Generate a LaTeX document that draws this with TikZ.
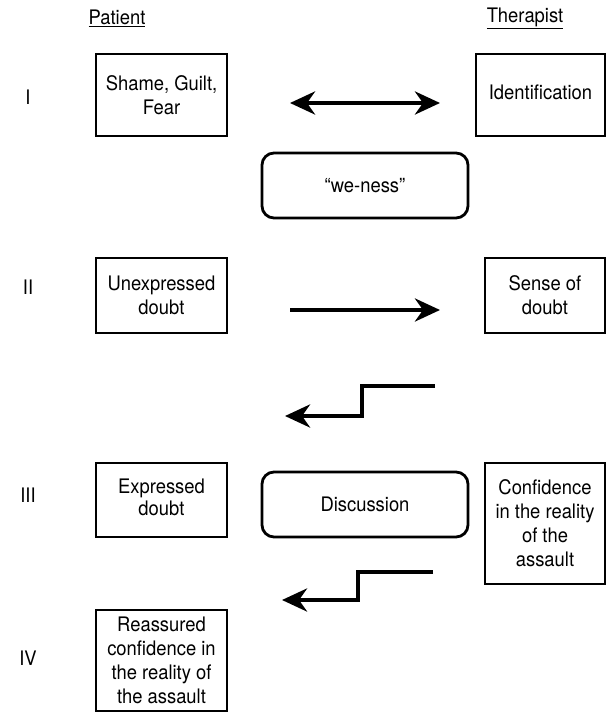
\documentclass[tikz,border=0pt]{standalone}
\usepackage{fontspec}
\setmainfont{TeX Gyre Heros}[FakeStretch=0.92]
\usetikzlibrary{arrows.meta}

\begin{document}
\begin{tikzpicture}[x=1pt,y=-1pt,
  >={Stealth[length=25pt,width=23pt,inset=8pt]},
  every node/.style={font=\fontsize{20}{24}\selectfont,align=center,inner sep=0pt},
  box/.style={draw,line width=2.8pt},
  talk/.style={draw,line width=2.8pt,rounded corners=12pt,
    minimum width=206pt,minimum height=65pt},
  flow/.style={line width=4.5pt}]
\useasboundingbox (0,0) rectangle (606,712);
% column heads and stages
\node (pat) at (117,18) {\underline{Patient}};
\node (ther) at (525,18) {\underline{Therapist}};
\node (s1) at (28,97)  {I};
\node (s2) at (28,287) {II};
\node (s3) at (28,495) {III};
\node (s4) at (28,658) {IV};
% patient column
\node[box,minimum width=131pt,minimum height=82pt] (p1) at (161.5,95)
  {Shame, Guilt,\\Fear};
\node[box,minimum width=131pt,minimum height=75pt] (p2) at (161.5,295.5)
  {Unexpressed\\doubt};
\node[box,minimum width=131pt,minimum height=74pt] (p3) at (161.5,500)
  {\raisebox{6pt}{\shortstack{Expressed\\doubt}}};
\node[box,minimum width=131pt,minimum height=101pt] (p4) at (161.5,660.5)
  {Reassured\\confidence in\\the reality of\\the assault};
% therapist column
\node[box,minimum width=129pt,minimum height=82pt] (t1) at (540.5,95)
  {\raisebox{6pt}{Identification}};
\node[box,minimum width=120pt,minimum height=75pt] (t2) at (545,295.5)
  {Sense of\\doubt};
\node[box,minimum width=120pt,minimum height=121pt] (t3) at (545,523.5)
  {Confidence\\in the reality\\of the\\assault};
% between
\node[talk] (we) at (365,185.5) {“we-ness”};
\node[talk] (disc) at (365,504.5) {Discussion};
% arrows
\coordinate (a1) at (290,103);
\coordinate (b1) at (440,103);
\coordinate (a2) at (290,310);
\coordinate (b2) at (440,310);
\coordinate (z1) at (435,386);
\coordinate (e1) at (285,416);
\coordinate (z2) at (433,572);
\coordinate (e2) at (282,600);
\draw[flow,<->] (a1) -- (b1);
\draw[flow,->] (a2) -- (b2);
\draw[flow,->] (z1) -- ++(-73,0) |- (e1);
\draw[flow,->] (z2) -- ++(-75,0) |- (e2);
\end{tikzpicture}
\end{document}
